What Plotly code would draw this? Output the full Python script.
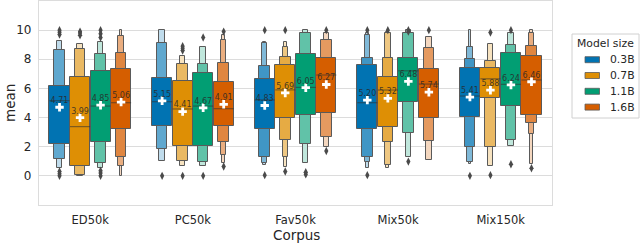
import plotly.graph_objects as go

# ---------------- data ----------------
categories = ["ED50k", "PC50k", "Fav50k", "Mix50k", "Mix150k"]
model_sizes = ["0.3B", "0.7B", "1.1B", "1.6B"]
palette = ["#0173B2", "#DE8F05", "#029E73", "#D55E00"]

means_03b = [4.71, 5.15, 4.83, 5.20, 5.41]
means_07b = [3.99, 4.41, 5.69, 5.32, 5.88]
means_11b = [4.85, 4.67, 6.05, 6.48, 6.24]
means_16b = [5.06, 4.91, 6.27, 5.74, 6.46]

medians_03b = [5.16, 5.09, 5.21, 5.02, 5.48]
medians_07b = [3.38, 4.59, 5.90, 5.89, 6.66]
medians_11b = [4.79, 4.79, 6.07, 7.21, 6.28]
medians_16b = [5.02, 4.61, 6.92, 6.30, 6.58]

# letter-value boxes per corpus, innermost first: (low, high)
levels_03b = [
    [(2.19, 6.16), (1.14, 8.63), (0.55, 9.27)],
    [(3.42, 6.69), (1.83, 9.09), (1.05, 10.0)],
    [(3.22, 6.64), (1.32, 7.53), (0.85, 9.09), (0.75, 9.20)],
    [(3.22, 7.60), (1.32, 8.06), (0.97, 9.66), (0.55, 9.80)],
    [(4.02, 7.42), (2.00, 7.99), (0.94, 8.86), (0.80, 10.0)],
]
levels_07b = [
    [(0.71, 6.76), (0.05, 8.74), (0.00, 9.04)],
    [(2.08, 6.51), (1.00, 7.70), (0.70, 8.20)],
    [(3.95, 7.62), (2.47, 8.17), (1.32, 8.86), (0.64, 9.20)],
    [(3.38, 6.76), (2.35, 8.06), (0.75, 9.77), (0.55, 9.85)],
    [(5.32, 7.42), (2.00, 7.90), (0.70, 9.08)],
]
levels_11b = [
    [(2.31, 7.21), (0.87, 8.33), (0.55, 9.20)],
    [(2.05, 7.03), (0.98, 7.70), (0.67, 8.85)],
    [(4.18, 8.33), (2.19, 9.77), (0.87, 10.0)],
    [(5.09, 8.06), (2.92, 9.77), (1.32, 10.0)],
    [(4.79, 8.45), (2.45, 8.97), (2.05, 9.77)],
]
levels_16b = [
    [(3.22, 7.33), (1.32, 8.40), (0.70, 9.57), (0.00, 10.0)],
    [(3.45, 6.46), (2.35, 7.76), (1.44, 9.30), (0.90, 9.66)],
    [(4.29, 8.06), (2.69, 9.32), (2.00, 9.80)],
    [(3.95, 7.31), (2.40, 8.75), (1.10, 9.54)],
    [(4.18, 8.22), (3.61, 8.90), (2.90, 9.77), (0.84, 10.0)],
]

outliers_03b = [[9.7, 9.85, 10.0, 0.0, 0.15, 0.3], [0.0], [10.0, 0.05], [10.0, 0.05], [0.0]]
outliers_07b = [[9.65, 9.8, 9.9], [8.6, 8.75, 8.9, 0.0], [10.0, 0.3], [10.0], [9.84, 0.05]]
outliers_11b = [[9.5, 9.75, 10.0, 0.0, 0.2, 0.35], [9.5, 0.0], [0.1, 0.25], [0.98, 9.9, 10.0], [10.0, 0.8]]
outliers_16b = [[], [9.9, 0.64], [10.0, 1.71], [10.0], [0.52]]

# ---------------- assembly ----------------
all_means = [means_03b, means_07b, means_11b, means_16b]
all_medians = [medians_03b, medians_07b, medians_11b, medians_16b]
all_levels = [levels_03b, levels_07b, levels_11b, levels_16b]
all_outliers = [outliers_03b, outliers_07b, outliers_11b, outliers_16b]

hue_offsets = [-0.3, -0.1, 0.1, 0.3]
box_width = 0.196
level_width = [1.0, 0.53, 0.27, 0.14, 0.08]
edge_color = "#5a5a5a"


def mix_white(hexc, t):
    hexc = hexc.lstrip("#")
    r, g, b = (int(hexc[i:i + 2], 16) for i in (0, 2, 4))
    r = round(r + (255 - r) * t)
    g = round(g + (255 - g) * t)
    b = round(b + (255 - b) * t)
    return f"rgb({r},{g},{b})"


fig = go.Figure()

max_levels = max(len(lv) for hue in all_levels for lv in hue)
# draw outer (narrow) levels first, inner IQR boxes last
for lvl in range(max_levels - 1, -1, -1):
    xs, bases, heights, widths, colors = [], [], [], [], []
    for h in range(len(model_sizes)):
        for c in range(len(categories)):
            lv = all_levels[h][c]
            if lvl >= len(lv):
                continue
            k = len(lv)
            lo, hi = lv[lvl]
            xs.append(c + hue_offsets[h])
            bases.append(lo)
            heights.append(hi - lo)
            widths.append(box_width * level_width[lvl])
            t = 0.75 * lvl / (k - 1) if k > 1 else 0
            colors.append(mix_white(palette[h], t))
    fig.add_trace(go.Bar(
        x=xs, y=heights, base=bases, width=widths,
        marker=dict(color=colors, line=dict(color=edge_color, width=1)),
        showlegend=False, hoverinfo="skip",
    ))

# medians
for h in range(len(model_sizes)):
    mx, my = [], []
    for c in range(len(categories)):
        xc = c + hue_offsets[h]
        mx += [xc - box_width / 2, xc + box_width / 2, None]
        my += [all_medians[h][c]] * 2 + [None]
    fig.add_trace(go.Scatter(x=mx, y=my, mode="lines",
                             line=dict(color="rgba(50,50,50,0.55)", width=1.2),
                             showlegend=False, hoverinfo="skip"))

# outliers
ox, oy = [], []
for h in range(len(model_sizes)):
    for c in range(len(categories)):
        for v in all_outliers[h][c]:
            ox.append(c + hue_offsets[h])
            oy.append(v)
fig.add_trace(go.Scatter(x=ox, y=oy, mode="markers",
                         marker=dict(symbol="diamond-tall", size=6, color="#4a4a4a",
                                     line=dict(width=0)),
                         showlegend=False, hoverinfo="skip"))

# means: white plus + text label
for h in range(len(model_sizes)):
    xs = [c + hue_offsets[h] for c in range(len(categories))]
    fig.add_trace(go.Scatter(x=xs, y=all_means[h], mode="markers",
                             marker=dict(symbol="cross", size=7, color="white",
                                         line=dict(width=0)),
                             showlegend=False, hoverinfo="skip"))
    fig.add_trace(go.Scatter(x=xs, y=[m + 0.42 for m in all_means[h]], mode="text",
                             text=[f"{m:.2f}" for m in all_means[h]],
                             textposition="middle center",
                             textfont=dict(size=8, color="rgba(40,40,40,0.85)",
                                           family="DejaVu Sans"),
                             showlegend=False, hoverinfo="skip"))

# ---------------- layout ----------------
L, R, T, B = 39, 88, 1, 38
W, H = 640, 243
pw, ph = W - L - R, H - T - B


def px_x(px):
    return (px - L) / pw


def px_y(py):
    return (H - B - py) / ph


grid = "#dcdcdc"
fig.update_layout(
    width=W, height=H,
    margin=dict(l=L, r=R, t=T, b=B, pad=0, autoexpand=False),
    plot_bgcolor="white", paper_bgcolor="white",
    barmode="overlay", bargap=0,
    font=dict(family="DejaVu Sans", color="#262626"),
    showlegend=False,
    xaxis=dict(range=[-0.5, 4.5], tickvals=list(range(len(categories))),
               ticktext=categories, showgrid=False, zeroline=False,
               showline=True, linecolor=grid, linewidth=1.3, mirror=True,
               ticks="outside", ticklen=4, tickcolor="rgba(0,0,0,0)",
               tickfont=dict(size=11.5), automargin=False),
    yaxis=dict(range=[-2, 12], tickvals=[0, 2, 4, 6, 8, 10],
               showgrid=True, gridcolor=grid, gridwidth=1, zeroline=False,
               showline=True, linecolor=grid, linewidth=1.3, mirror=True,
               ticks="outside", ticklen=4, tickcolor="rgba(0,0,0,0)",
               tickfont=dict(size=12), automargin=False),
)

# axis titles placed as annotations
fig.add_annotation(xref="paper", yref="paper", x=px_x(296), y=px_y(235),
                   text="Corpus", showarrow=False, xanchor="center", yanchor="middle",
                   font=dict(size=13.5, color="#262626"))
fig.add_annotation(xref="paper", yref="paper", x=px_x(10), y=px_y(103),
                   text="mean", showarrow=False, textangle=-90,
                   xanchor="center", yanchor="middle",
                   font=dict(size=13.5, color="#262626"))

# manual legend
lx0, lx1, ly0, ly1 = 572, 639, 34, 118
fig.add_shape(type="rect", xref="paper", yref="paper",
              x0=px_x(lx0), x1=px_x(lx1), y0=px_y(ly1), y1=px_y(ly0),
              line=dict(color="#d0d0d0", width=1), fillcolor="white", layer="above")
fig.add_annotation(xref="paper", yref="paper", x=px_x(605.5), y=px_y(43),
                   text="Model size", showarrow=False, xanchor="center", yanchor="middle",
                   font=dict(size=10.8, color="#262626"))
for i, name in enumerate(model_sizes):
    yc = 59.7 + i * 15.8
    fig.add_shape(type="rect", xref="paper", yref="paper",
                  x0=px_x(585), x1=px_x(599.5), y0=px_y(yc + 3), y1=px_y(yc - 3),
                  line=dict(color=edge_color, width=0.8), fillcolor=palette[i], layer="above")
    fig.add_annotation(xref="paper", yref="paper", x=px_x(607.5), y=px_y(yc),
                       text=name, showarrow=False, xanchor="left", yanchor="middle",
                       font=dict(size=10.8, color="#262626"))

fig.write_html("out.html", config={"displayModeBar": False},
               post_script="document.body.style.margin='0';document.body.style.overflow='hidden';")
